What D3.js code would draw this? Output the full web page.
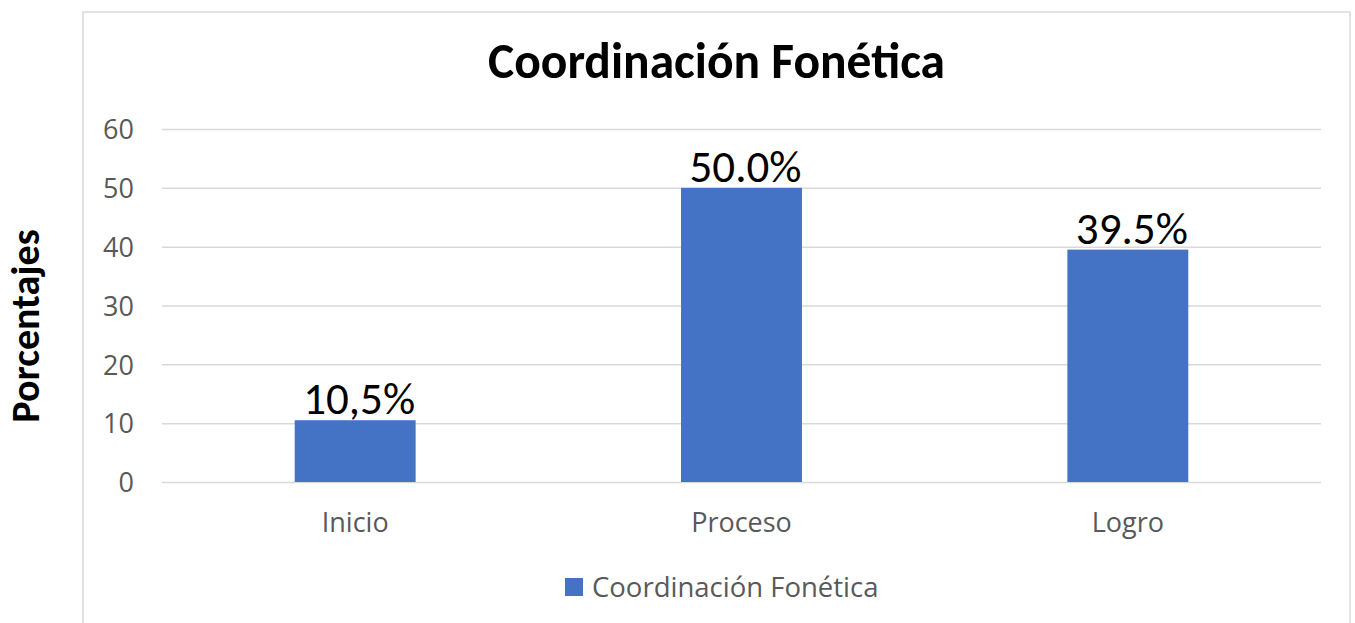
<!DOCTYPE html>
<html><head><meta charset="utf-8">
<script src="https://cdn.jsdelivr.net/npm/d3@7"></script>
<style>body{margin:0;background:#fff;overflow:hidden}</style>
</head><body>
<svg id="c" width="1355" height="623"></svg>
<script>
const categories = ["Inicio", "Proceso", "Logro"];
const values = [10.5, 50.0, 39.5];
const valueLabels = ["10,5%", "50.0%", "39.5%"];
const yTicks = [0, 10, 20, 30, 40, 50, 60];
const seriesName = "Coordinación Fonética";
const chartTitle = "Coordinación Fonética";
const yTitle = "Porcentajes";

const svg = d3.select("#c");
const W = 1355, H = 623;
const plot = {left: 162, right: 1321, top: 129, bottom: 482};
const barColor = "#4472C4";
const gridColor = "#d9d9d9";
const textGray = "#595959";
const uiFont = "'Open Sans', 'Noto Sans', sans-serif";
const calFont = "Carlito, Lato, 'Open Sans', sans-serif";

svg.append("rect").attr("width", W).attr("height", H).attr("fill", "#fff");
// chart area border
svg.append("rect").attr("x", 83).attr("y", 12).attr("width", 1267).attr("height", 700)
  .attr("fill", "none").attr("stroke", gridColor).attr("stroke-width", 1.5);

const x = d3.scaleBand().domain(categories).range([plot.left, plot.right])
  .paddingInner(0.687).paddingOuter(0.3435);
const y = d3.scaleLinear().domain([0, 60]).range([plot.bottom, plot.top]);

// gridlines + y tick labels via axis
const yAxis = d3.axisLeft(y).tickValues(yTicks).tickSize(-(plot.right - plot.left)).tickPadding(28);
const gy = svg.append("g").attr("transform", `translate(${plot.left},0)`).call(yAxis);
gy.select(".domain").remove();
gy.selectAll(".tick line").attr("stroke", gridColor).attr("stroke-width", 1.5);
gy.selectAll(".tick text").attr("fill", textGray).attr("font-family", uiFont)
  .attr("font-size", 27).attr("dy", "0.36em");

// x axis labels
const xAxis = d3.axisBottom(x).tickSize(0).tickPadding(50);
const gx = svg.append("g").attr("transform", `translate(0,${plot.bottom})`).call(xAxis);
gx.select(".domain").remove();
gx.selectAll(".tick text").attr("fill", textGray).attr("font-family", uiFont)
  .attr("font-size", 27).attr("dy", 0);

// bars
svg.append("g").selectAll("rect").data(values).join("rect")
  .attr("x", (d, i) => x(categories[i]))
  .attr("y", d => y(d))
  .attr("width", x.bandwidth())
  .attr("height", d => y(0) - y(d))
  .attr("fill", barColor);

// data labels
svg.append("g").selectAll("text").data(values).join("text")
  .attr("x", (d, i) => x(categories[i]) + x.bandwidth() / 2 + 4)
  .attr("y", d => y(d) - 6)
  .attr("text-anchor", "middle")
  .attr("font-family", calFont).attr("font-size", 45).attr("fill", "#000")
  .text((d, i) => valueLabels[i]);

// title
svg.append("text").attr("x", 716.5).attr("y", 78).attr("text-anchor", "middle")
  .attr("font-family", calFont).attr("font-weight", "bold").attr("font-size", 49.5)
  .attr("fill", "#000").text(chartTitle);

// y title
svg.append("text").attr("transform", "translate(39,326) rotate(-90)")
  .attr("text-anchor", "middle").attr("font-family", calFont).attr("font-weight", "bold")
  .attr("font-size", 40).attr("fill", "#000").text(yTitle);

// legend
const lg = svg.append("g");
lg.append("rect").attr("x", 565).attr("y", 578).attr("width", 18).attr("height", 18).attr("fill", barColor);
lg.append("text").attr("x", 592).attr("y", 597).attr("font-family", uiFont).attr("font-size", 27.5)
  .attr("fill", textGray).text(seriesName);
</script>
</body></html>
